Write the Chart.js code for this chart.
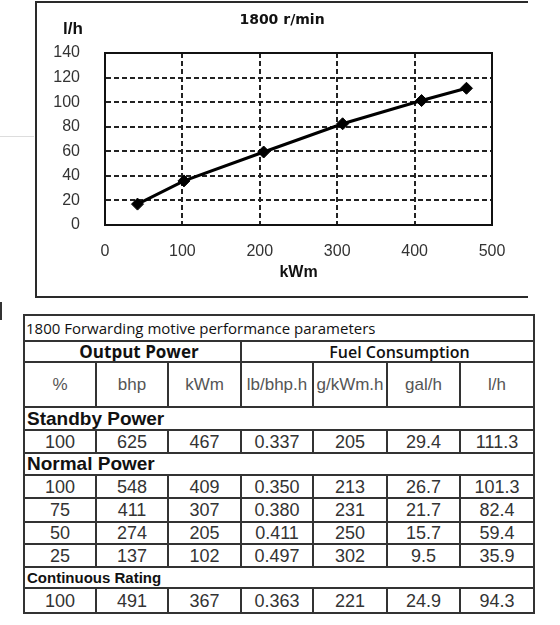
<!DOCTYPE html>
<html><head><meta charset="utf-8">
<script src="https://cdn.jsdelivr.net/npm/chart.js@4.4.0/dist/chart.umd.min.js"></script>
<style>
body{margin:0;background:#fff;}
#wrap{position:relative;width:560px;height:625px;overflow:hidden;background:#fff;}
#frame{position:absolute;left:35px;top:1px;width:491px;height:293px;border-left:2px solid #2a2a2a;border-top:2px solid #2a2a2a;border-bottom:2px solid #2a2a2a;}
#c{position:absolute;left:36px;top:0;}
#ylab{position:absolute;left:63px;top:19px;font:bold 17px/20px "Liberation Sans",Arial,sans-serif;color:#111;}
#mark1{position:absolute;left:0;top:302px;width:2px;height:18px;background:#333;}
#mark2{position:absolute;left:0;top:136px;width:34px;height:1px;background:#ddd;}
#t{position:absolute;left:23px;top:314px;width:510px;border-collapse:collapse;table-layout:fixed;color:#333;}
#t td{border:2px solid #333;padding:0;text-align:center;font:18px/16px "Liberation Sans",Arial,sans-serif;white-space:nowrap;overflow:hidden;}
#t td.title{text-align:left;font:15px/16px "Open Sans",sans-serif;color:#111;padding-left:1px;}
#t td.grp1{font:bold 17px/16px "Open Sans",sans-serif;color:#111;padding-left:13px;}
#t td.grp2{font:600 16px/16px "Open Sans",sans-serif;color:#111;padding-left:24px;}
#t td.hdr{font:17px/16px "Liberation Sans",Arial,sans-serif;color:#555;}
#t td.sec{text-align:left;font:bold 19px/16px "Liberation Sans",Arial,sans-serif;color:#111;padding-left:2px;}
#t td.sec.small{font-size:15px;}
</style></head>
<body><div id="wrap">
<div id="frame"></div>
<div id="mark1"></div><div id="mark2"></div>
<canvas id="c" width="492" height="300"></canvas>
<div id="ylab">l/h</div>
<table id="t"><colgroup>
<col style="width:72px"><col style="width:72px"><col style="width:73px"><col style="width:72px"><col style="width:74px"><col style="width:73px"><col style="width:74px">
</colgroup><tbody id="tb"></tbody></table>
</div>
<script>
// Chart data
const powerKWm = [42, 102, 205, 307, 409, 467];
const fuelLph  = [17, 35.9, 59.4, 82.4, 101.3, 111.3];
const xTickValues = [0, 100, 200, 300, 400, 500];
const yTickValues = [0, 20, 40, 60, 80, 100, 120, 140];
const chartTitle = '1800 r/min';
const xTitle = 'kWm';

// Table data
const tableTitle = '1800 Forwarding motive performance parameters';
const groupHeaders = ['Output Power', 'Fuel Consumption'];
const columnHeaders = ['%', 'bhp', 'kWm', 'lb/bhp.h', 'g/kWm.h', 'gal/h', 'l/h'];
const standbyRows = [['100','625','467','0.337','205','29.4','111.3']];
const normalRows = [
  ['100','548','409','0.350','213','26.7','101.3'],
  ['75','411','307','0.380','231','21.7','82.4'],
  ['50','274','205','0.411','250','15.7','59.4'],
  ['25','137','102','0.497','302','9.5','35.9']
];
const continuousRows = [['100','491','367','0.363','221','24.9','94.3']];
const sections = ['Standby Power', 'Normal Power', 'Continuous Rating'];

// build table
const tb = document.getElementById('tb');
function addRow(h, cells){ const tr=document.createElement('tr'); tr.style.height=h+'px'; cells.forEach(c=>{const td=document.createElement('td'); td.textContent=c.text; if(c.cls) td.className=c.cls; if(c.span) td.colSpan=c.span; tr.appendChild(td);}); tb.appendChild(tr); }
addRow(26,[{text:tableTitle,cls:'title',span:7}]);
addRow(21,[{text:groupHeaders[0],cls:'grp1',span:3},{text:groupHeaders[1],cls:'grp2',span:4}]);
addRow(45,columnHeaders.map(t=>({text:t,cls:'hdr'})));
addRow(23,[{text:sections[0],cls:'sec',span:7}]);
standbyRows.forEach(r=>addRow(23,r.map(t=>({text:t}))));
addRow(22,[{text:sections[1],cls:'sec',span:7}]);
const nh=[23,24,22,23];
normalRows.forEach((r,i)=>addRow(nh[i],r.map(t=>({text:t}))));
addRow(21,[{text:sections[2],cls:'sec small',span:7}]);
continuousRows.forEach(r=>addRow(25,r.map(t=>({text:t}))));

const frameBox = {
  id:'frameBox',
  beforeDatasetsDraw(chart){
    const {ctx, chartArea:a} = chart;
    ctx.save(); ctx.strokeStyle='#111'; ctx.lineWidth=2; ctx.setLineDash([]);
    ctx.strokeRect(a.left, a.top, a.right-a.left, a.bottom-a.top);
    ctx.restore();
  }
};

const tickFont = {family:'"Liberation Sans", Arial, sans-serif', size:16};
new Chart(document.getElementById('c'), {
  type:'line',
  data:{ datasets:[{
    data: powerKWm.map((x,i)=>({x, y:fuelLph[i]})),
    borderColor:'#000', borderWidth:3, backgroundColor:'#000',
    pointStyle:'rectRot', pointRadius:6, pointBorderWidth:1, pointBorderColor:'#000', pointBackgroundColor:'#000',
    tension:0
  }]},
  options:{
    responsive:false, animation:false, devicePixelRatio:1,
    layout:{padding:{left:0, right:0, top:0, bottom:15}},
    plugins:{
      legend:{display:false}, tooltip:{enabled:false},
      title:{display:true, text:chartTitle, color:'#111', font:{family:'"DejaVu Sans", sans-serif', size:14, weight:'bold'}, padding:{top:12, bottom:53-12-16.8}}
    },
    scales:{
      x:{ type:'linear', min:0, max:500,
        afterBuildTicks(s){ s.ticks = xTickValues.map(v=>({value:v})); },
        afterFit(s){ s.height = 60; },
        ticks:{ padding:17, color:'#333', font:tickFont, callback:v=>String(v) },
        grid:{ drawTicks:false, lineWidth:2, color:c=> (c.tick && (c.tick.value===0||c.tick.value===500)) ? 'rgba(0,0,0,0)' : '#222' },
        border:{ display:true, color:'#111', width:2, dash:[5,3] },
        title:{ display:true, text:xTitle, color:'#111', font:{family:'"Liberation Sans", Arial, sans-serif', size:16, weight:'bold'}, padding:{top:0,bottom:3} }
      },
      y:{ type:'linear', min:0, max:140,
        afterBuildTicks(s){ s.ticks = yTickValues.map(v=>({value:v})); },
        afterFit(s){ s.width = 69; },
        ticks:{ padding:25, color:'#333', font:tickFont },
        grid:{ drawTicks:false, lineWidth:2, color:c=> (c.tick && (c.tick.value===0||c.tick.value===140)) ? 'rgba(0,0,0,0)' : '#222' },
        border:{ display:true, color:'#111', width:2, dash:[5,3] }
      },
      yRight:{ type:'linear', position:'right', display:true, min:0, max:140,
        afterFit(s){ s.width = 36; },
        ticks:{ display:false }, grid:{ display:false, drawTicks:false }, border:{ display:false }
      }
    }
  },
  plugins:[frameBox]
});
</script>
</body></html>
